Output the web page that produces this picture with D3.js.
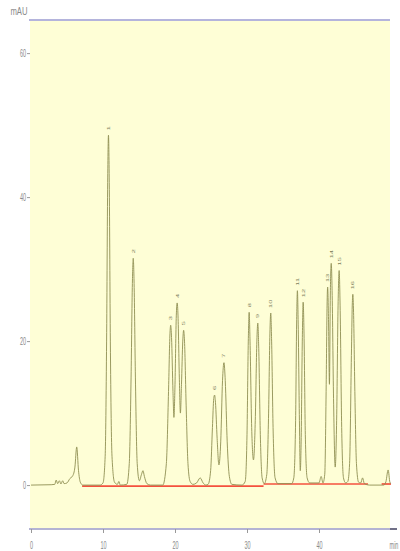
<!DOCTYPE html>
<html>
<head>
<meta charset="utf-8">
<script src="https://cdn.jsdelivr.net/npm/d3@7"></script>
<style>
  html, body { margin: 0; padding: 0; background: #fff; }
  svg { display: block; }
  text { font-family: "Liberation Sans", Arial, sans-serif; }
</style>
</head>
<body>
<div id="block"></div>
<script>
// detector trace (min, mAU)
var traceTime = [
  0, 2.8, 3.3, 3.5, 3.7, 3.95, 4.15, 4.4, 4.6, 5.0, 5.4, 5.8, 6.1, 6.35, 6.6, 6.85, 7.2, 9.6,
  10.0, 10.3, 10.5, 10.65, 10.76, 10.87, 11.02, 11.25, 11.6, 12.0, 12.2, 12.4,
  13.3, 13.65, 13.9, 14.08, 14.2, 14.32, 14.5, 14.75, 15.05, 15.35, 15.55, 15.75, 16.1, 16.6,
  18.3, 18.8, 19.1, 19.3, 19.4, 19.52, 19.72, 19.85, 20.0, 20.18, 20.3, 20.42, 20.6, 20.75,
  20.9, 21.08, 21.2, 21.32, 21.55, 21.8, 22.1, 22.5, 23.0, 23.5, 23.9, 24.3,
  24.6, 24.95, 25.2, 25.38, 25.5, 25.62, 25.85, 26.1, 26.35, 26.6, 26.8, 26.98, 27.25, 27.55, 27.9, 29.3,
  29.75, 30.0, 30.18, 30.3, 30.42, 30.65, 30.9, 31.15, 31.37, 31.5, 31.63, 31.85, 32.1, 32.4,
  32.75, 33.0, 33.18, 33.3, 33.42, 33.62, 33.9, 34.3, 36.2,
  36.5, 36.75, 36.9, 37.0, 37.1, 37.28, 37.4, 37.52, 37.68, 37.8, 37.92, 38.1, 38.35, 38.7, 40.0, 40.3, 40.55,
  40.8, 41.0, 41.12, 41.2, 41.32, 41.45, 41.58, 41.7, 41.82, 42.02, 42.25, 42.45, 42.65, 42.8, 42.93, 43.15, 43.4, 43.7, 44.0,
  44.25, 44.5, 44.62, 44.7, 44.8, 44.98, 45.2, 45.5, 45.8, 46.05, 46.3, 47.0, 49.0, 49.3, 49.6, 49.85, 50.0
];
var traceMAU = [
  0, 0.05, 0.1, 0.7, 0.2, 0.6, 0.15, 0.6, 0.2, 0.3, 0.9, 1.3, 2.5, 5.3, 2.0, 0.4, 0, 0,
  0.3, 4, 20, 42, 48.6, 42, 20, 4, 0.4, 0.1, 0.5, 0,
  0.1, 3, 15, 28, 31.5, 28, 15, 3, 0.6, 1.5, 2.0, 1.2, 0.2, 0,
  0, 3, 13, 21, 22.2, 20.5, 13, 9.4, 14, 23.5, 25.3, 23.5, 15, 10,
  14, 20, 21.5, 20, 11, 3, 0.5, 0.1, 0.3, 1.0, 0.3, 0,
  0.1, 2, 8, 12, 12.5, 11.5, 6.5, 2.8, 6, 14.5, 17, 14.5, 6, 1.2, 0.1, 0,
  0.5, 7, 20, 24, 20, 8, 3.5, 9, 20, 22.5, 19, 7, 1, 0.2,
  1.5, 10, 21, 23.9, 20, 8, 1, 0.2, 0.2,
  1.0, 9, 23, 27, 23, 9, 2, 6, 20, 25.4, 21, 7, 1, 0.3, 0.3, 1.2, 0.3,
  1.5, 14, 25, 27.5, 23, 14, 27, 30.8, 27, 12, 2.5, 9, 25, 29.8, 25, 8, 1, 0.3, 0.5,
  3, 18, 25, 26.5, 24, 13, 3, 0.4, 0.3, 1.0, 0.2, 0, 0, 0.5, 2.1, 0.4, 0.2
];

// integrated peaks
var peakNo = ["1", "2", "3", "4", "5", "6", "7", "8", "9", "10", "11", "12", "13", "14", "15", "16"];
var peakTime = [10.76, 14.2, 19.4, 20.3, 21.2, 25.5, 26.8, 30.3, 31.5, 33.3, 37.0, 37.8, 41.2, 41.7, 42.8, 44.7];
var peakHeight = [48.6, 31.5, 22.2, 25.3, 21.5, 12.5, 17.0, 24.0, 22.5, 23.9, 27.0, 25.4, 27.5, 30.8, 29.8, 26.5];

// drawn baselines (red)
var baseStart = [7.1, 32.3, 48.7];
var baseEnd = [32.3, 46.8, 50.0];
var baseLevel = [-0.15, 0.15, 0.15];

// axes
var xTicks = [0, 10, 20, 30, 40];
var yTicks = [0, 20, 40, 60];

var svg_dx = 400, svg_dy = 551;
var plot = {left: 30, right: 390, top: 20, bottom: 529};

var xScale = d3.scaleLinear().domain([0, 50]).range([31, 391]);
var yScale = d3.scaleLinear().domain([-6.1, 64.6]).range([plot.bottom, plot.top]);

var svg = d3.select("#block").append("svg")
  .attr("width", svg_dx)
  .attr("height", svg_dy);

// plot background
svg.append("rect")
  .attr("x", plot.left).attr("y", plot.top)
  .attr("width", plot.right - plot.left)
  .attr("height", plot.bottom - plot.top)
  .attr("fill", "#fefed6");

// top frame line
svg.append("line")
  .attr("x1", plot.left - 1).attr("x2", plot.right)
  .attr("y1", plot.top).attr("y2", plot.top)
  .attr("stroke", "#b4b4dc").attr("stroke-width", 2);

// baselines
svg.append("g").selectAll("line")
  .data(baseStart)
  .enter().append("line")
  .attr("x1", function(d) { return xScale(d); })
  .attr("x2", function(d, i) { return xScale(baseEnd[i]); })
  .attr("y1", function(d, i) { return yScale(baseLevel[i]); })
  .attr("y2", function(d, i) { return yScale(baseLevel[i]); })
  .attr("stroke", "#f4503e").attr("stroke-width", 1.7);

// trace
var pts = traceTime.map(function(t, i) { return [t, traceMAU[i]]; });
var line = d3.line()
  .x(function(d) { return xScale(d[0]); })
  .y(function(d) { return yScale(d[1]); })
  .curve(d3.curveMonotoneX);

svg.append("path")
  .datum(pts)
  .attr("d", line)
  .attr("fill", "none")
  .attr("stroke", "#8e8e52")
  .attr("stroke-width", 0.9);

// peak numbers, rotated
svg.append("g").selectAll("text")
  .data(peakNo)
  .enter().append("text")
  .attr("transform", function(d, i) {
    return "translate(" + xScale(peakTime[i]) + "," + (yScale(peakHeight[i]) - 5) + ") scale(0.55,1) rotate(-90)";
  })
  .attr("dy", "0.35em")
  .attr("font-size", 7.5)
  .attr("fill", "#7a7a58")
  .text(function(d) { return d; });

// x axis
var xAxis = d3.axisBottom(xScale).tickValues(xTicks).tickSize(4).tickPadding(8).tickSizeOuter(0);
var gx = svg.append("g")
  .attr("transform", "translate(0," + plot.bottom + ")")
  .call(xAxis);
gx.select(".domain").attr("stroke", "#b4b4d4").attr("stroke-width", 2)
  .attr("d", "M" + (plot.left - 1) + ",0H" + xScale(50));
gx.selectAll(".tick line").attr("stroke", "#999");
gx.selectAll("text").attr("fill", "#8a8a8a").attr("font-size", 11)
  .attr("transform", "scale(0.5,1)");
gx.append("line")
  .attr("x1", xScale(50) - 1).attr("x2", xScale(50) + 6)
  .attr("stroke", "#707088").attr("stroke-width", 2);
gx.append("text")
  .attr("transform", "translate(" + (xScale(50) + 3) + ",0) scale(0.5,1)")
  .attr("y", 12).attr("dy", "0.71em")
  .attr("text-anchor", "middle")
  .attr("font-size", 11).attr("fill", "#8a8a8a")
  .text("min");

// y axis
var yAxis = d3.axisLeft(yScale).tickValues(yTicks).tickSize(3).tickPadding(5).tickSizeOuter(0);
var gy = svg.append("g")
  .attr("transform", "translate(" + plot.left + ",0)")
  .call(yAxis);
gy.select(".domain").remove();
gy.selectAll(".tick line").attr("stroke", "#999");
gy.selectAll("text").attr("fill", "#8a8a8a").attr("font-size", 11)
  .attr("transform", "scale(0.5,1)");

// unit label
svg.append("text")
  .attr("transform", "translate(19,15) scale(0.7,1)")
  .attr("text-anchor", "middle")
  .attr("font-size", 11).attr("fill", "#8a8a8a")
  .text("mAU");
</script>
</body>
</html>
